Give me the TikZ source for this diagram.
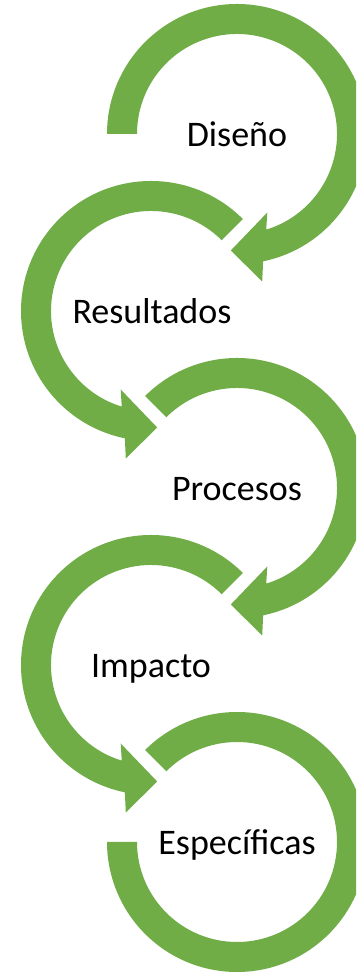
\documentclass[tikz,border=0pt]{standalone}
\usepackage{fontspec}
\setmainfont{Carlito}
\usetikzlibrary{calc}
\definecolor{arrowgreen}{HTML}{70AD47}
\tikzset{
  ring/.style={fill=arrowgreen, draw=none},
  label/.style={anchor=base, inner sep=0pt, font=\fontsize{36}{40}\selectfont, text=black}
}
\begin{document}
\begin{tikzpicture}[x=1pt,y=1pt]
\clip (0,0) rectangle (356,973);
\fill[white] (0,0) rectangle (356,973);
% centres
\coordinate (c1) at (237,839);
\coordinate (c2) at (151,662);
\coordinate (c3) at (237,485);
\coordinate (c4) at (151,308);
\coordinate (c5) at (237,131);
% ring 1 (Diseno): starts flat at left, clockwise, arrow at lower right
\fill[ring] ($(c1)+(180:130)$) arc[start angle=180, end angle=-78.4, radius=130]
  -- ($(c1)+(25.2,-147.5)$) -- ($(c1)+(-6.2,-116.5)$) -- ($(c1)+(30.3,-78.5)$)
  -- ($(c1)+(-73:100)$) arc[start angle=-73, end angle=180, radius=100] -- cycle;
% ring 2 (Resultados): left, counterclockwise
\fill[ring] ($(c2)+(45:130)$) arc[start angle=45, end angle=258.4, radius=130]
  -- ($(c2)+(-25.2,-147.5)$) -- ($(c2)+(6.2,-116.5)$) -- ($(c2)+(-30.3,-78.5)$)
  -- ($(c2)+(253:100)$) arc[start angle=253, end angle=45, radius=100] -- cycle;
% ring 3 (Procesos)
\fill[ring] ($(c3)+(135:130)$) arc[start angle=135, end angle=-78.4, radius=130]
  -- ($(c3)+(25.2,-147.5)$) -- ($(c3)+(-6.2,-116.5)$) -- ($(c3)+(30.3,-78.5)$)
  -- ($(c3)+(-73:100)$) arc[start angle=-73, end angle=135, radius=100] -- cycle;
% ring 4 (Impacto)
\fill[ring] ($(c4)+(45:130)$) arc[start angle=45, end angle=258.4, radius=130]
  -- ($(c4)+(-25.2,-147.5)$) -- ($(c4)+(6.2,-116.5)$) -- ($(c4)+(-30.3,-78.5)$)
  -- ($(c4)+(253:100)$) arc[start angle=253, end angle=45, radius=100] -- cycle;
% ring 5 (Especificas): no arrow, ends flat at left
\fill[ring] ($(c5)+(135:130)$) arc[start angle=135, end angle=-180, radius=130]
  -- ($(c5)+(180:100)$) arc[start angle=-180, end angle=135, radius=100] -- cycle;
% labels
\node[label] (t1) at ($(c1)+(0,-12.5)$) {Diseño};
\node[label] (t2) at ($(c2)+(1,-12.5)$) {Resultados};
\node[label] (t3) at ($(c3)+(0,-12.5)$) {Procesos};
\node[label] (t4) at ($(c4)+(0,-12.5)$) {Impacto};
\node[label] (t5) at ($(c5)+(0,-12.5)$) {Específicas};
\end{tikzpicture}
\end{document}
